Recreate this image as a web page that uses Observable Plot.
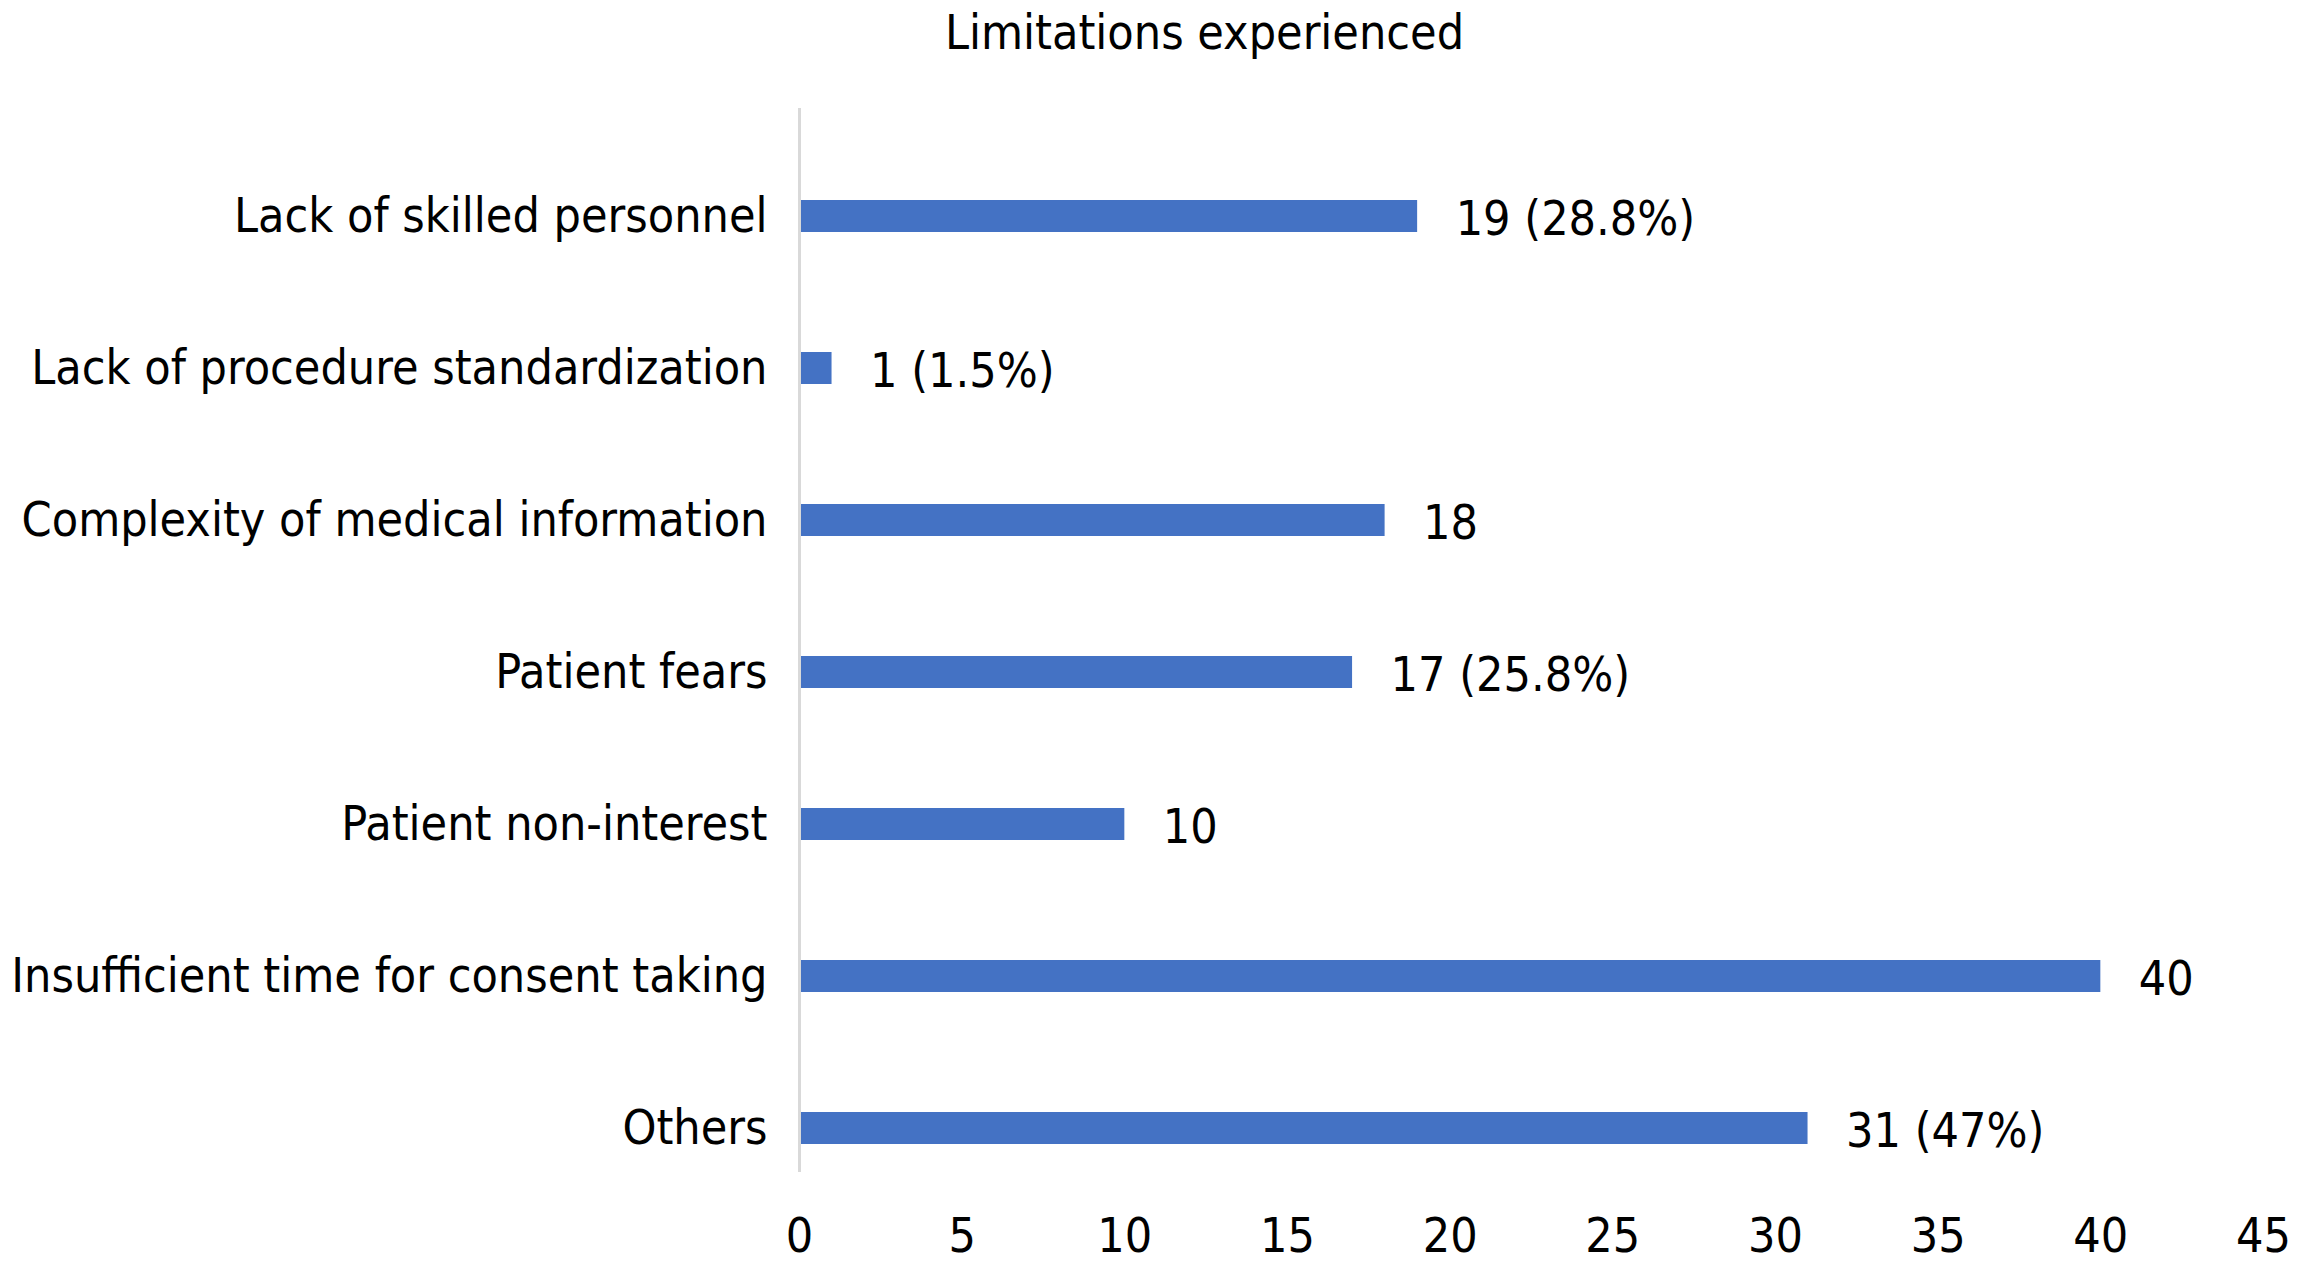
<!DOCTYPE html>
<html>
<head>
<meta charset="utf-8">
<script src="https://cdn.jsdelivr.net/npm/d3@7"></script>
<script src="https://cdn.jsdelivr.net/npm/@observablehq/plot@0.6"></script>
<style>
  html, body { margin: 0; padding: 0; background: #fff; }
  body { width: 2305px; height: 1273px; overflow: hidden; font-family: "DejaVu Sans Condensed", "Liberation Sans Narrow", sans-serif; }
  #title { height: 70px; box-sizing: border-box; padding-left: 104px; text-align: center; font-size: 48px; line-height: 64px; color: #000; }
  #chart svg { display: block; }
</style>
</head>
<body>
<div id="title">Limitations experienced</div>
<div id="chart"></div>
<script>
const categories = [
  "Lack of skilled personnel",
  "Lack of procedure standardization",
  "Complexity of medical information",
  "Patient fears",
  "Patient non-interest",
  "Insufficient time for consent taking",
  "Others"
];
const values = [19, 1, 18, 17, 10, 40, 31];
const valueLabels = ["19 (28.8%)", "1 (1.5%)", "18", "17 (25.8%)", "10", "40", "31 (47%)"];
const xTicks = [0, 5, 10, 15, 20, 25, 30, 35, 40, 45];

const data = categories.map((c, i) => ({category: c, value: values[i], label: valueLabels[i]}));

const plot = Plot.plot({
  width: 2305,
  height: 1203,
  marginTop: 38,
  marginBottom: 101,
  marginLeft: 799,
  marginRight: 42,
  style: {fontFamily: '"DejaVu Sans Condensed", "Liberation Sans Narrow", sans-serif', fontSize: "48px", color: "#000", background: "#fff"},
  x: {domain: [0, 45], ticks: xTicks, label: null},
  y: {domain: categories, label: null, paddingInner: 0.79, paddingOuter: 0.39, align: 0.765},
  marks: [
    Plot.barX(data, {x: "value", y: "category", fill: "#4472C4"}),
    Plot.text(data, {x: "value", y: "category", text: "label", textAnchor: "start", dx: 38, dy: 3, fill: "#000", fontSize: 48}),
    Plot.ruleX([0], {stroke: "#d9d9d9", strokeWidth: 3}),
    Plot.axisX({ticks: xTicks, tickSize: 0, tickPadding: 45, label: null, fontSize: 48}),
    Plot.axisY({tickSize: 0, tickPadding: 32, label: null, fontSize: 48})
  ]
});
document.getElementById("chart").appendChild(plot);
</script>
</body>
</html>
